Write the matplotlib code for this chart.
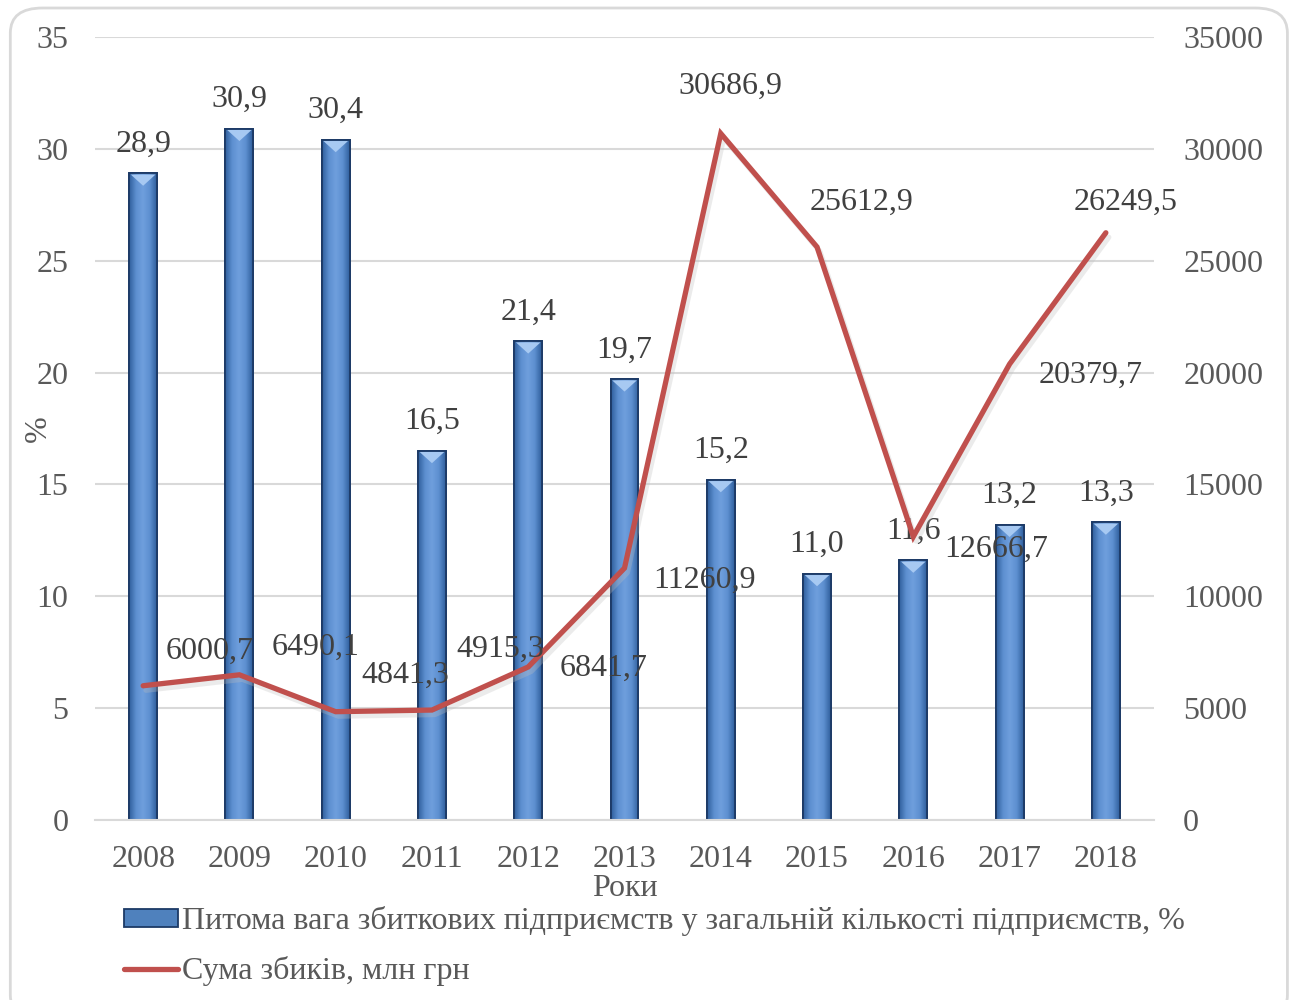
import matplotlib
matplotlib.use("Agg")
import matplotlib.pyplot as plt
import numpy as np
from matplotlib.patches import FancyBboxPatch, Polygon, Rectangle
from matplotlib.lines import Line2D
from matplotlib.colors import LinearSegmentedColormap

years = ["2008", "2009", "2010", "2011", "2012", "2013", "2014", "2015", "2016", "2017", "2018"]
share = [28.9, 30.9, 30.4, 16.5, 21.4, 19.7, 15.2, 11.0, 11.6, 13.2, 13.3]
losses = [6000.7, 6490.1, 4841.3, 4915.3, 6841.7, 11260.9, 30686.9, 25612.9, 12666.7, 20379.7, 26249.5]
share_labels = ["28,9", "30,9", "30,4", "16,5", "21,4", "19,7", "15,2", "11,0", "11,6", "13,2", "13,3"]
loss_labels = ["6000,7", "6490,1", "4841,3", "4915,3", "6841,7", "11260,9", "30686,9", "25612,9", "12666,7", "20379,7", "26249,5"]
left_ticks = [0, 5, 10, 15, 20, 25, 30, 35]
right_ticks = [0, 5000, 10000, 15000, 20000, 25000, 30000, 35000]
legend_bar = "Питома вага збиткових підприємств у загальній кількості підприємств, %"
legend_line = "Сума збиків, млн грн"
xlabel = "Роки"
ylabel = "%"

# label offsets in points (style/layout)
loss_offsets = [(48, 25), (55, 20), (50, 26), (49, 44), (54, -1), (58, -9),
                (7, 34), (32, 32), (60, -9), (58, -8), (14, 22)]

plt.rcParams['font.family'] = ['Liberation Serif', 'DejaVu Serif']
FS = 23
TICK_C = '#595959'
LAB_C = '#404040'

fig = plt.figure(figsize=(12.9, 10), dpi=100)
fig.patches.append(FancyBboxPatch((0.008, -0.02), 0.998 - 0.008, 0.992 + 0.02,
                                  boxstyle="round,pad=0,rounding_size=0.025",
                                  transform=fig.transFigure, facecolor='white',
                                  edgecolor='#d9d9d9', linewidth=2, zorder=-10))

ax = fig.add_axes([95 / 1290, 0.18, (1154 - 95) / 1290, 0.963 - 0.18])
ax.set_facecolor('none')
x = np.arange(len(years))
ax.set_xlim(-0.5, len(years) - 0.5)
ax.set_ylim(0, 35)
ax.set_yticks(left_ticks)
ax.grid(axis='y', color='#d9d9d9', linewidth=1.5, zorder=0)
ax.set_axisbelow(True)
for s in ['top', 'right', 'left']:
    ax.spines[s].set_visible(False)
ax.spines['bottom'].set_color('#d9d9d9')
ax.spines['bottom'].set_linewidth(1.5)
ax.tick_params(axis='both', length=0, labelsize=FS, labelcolor=TICK_C)
ax.tick_params(axis='y', pad=19)
ax.tick_params(axis='x', pad=18)
ax.set_xticks(x)
ax.set_xticklabels(years)
ax.set_xlabel(xlabel, fontsize=FS, color=TICK_C, labelpad=0)
ax.set_ylabel(ylabel, fontsize=FS, color=TICK_C, labelpad=-12)

bars = ax.bar(x, share, width=0.29, facecolor='#4f81bd', edgecolor='#1c3a66',
              linewidth=1.3, zorder=2)
cmap = LinearSegmentedColormap.from_list('b', ['#2f5f9c', '#5d8fd0', '#6f9fdd', '#5d8fd0', '#2f5f9c'])
grad = np.linspace(0, 1, 64).reshape(1, -1)
for b in bars:
    bx, bw, bh = b.get_x(), b.get_width(), b.get_height()
    im = ax.imshow(grad, cmap=cmap, extent=(bx, bx + bw, 0, bh), aspect='auto',
                   zorder=2.1, interpolation='bilinear')
    im.set_clip_path(b)
    ax.add_patch(Rectangle((bx, 0), bw, bh, fill=False, edgecolor='#1c3a66',
                           linewidth=1.3, zorder=2.3))
    tri = Polygon([(bx + bw * 0.06, bh - 0.05), (bx + bw * 0.94, bh - 0.05),
                   (bx + bw / 2, bh - 0.55)], closed=True, facecolor='#a7c9f2',
                  edgecolor='none', zorder=2.2)
    ax.add_patch(tri)
ax.set_xlim(-0.5, len(years) - 0.5)
ax.set_ylim(0, 35)

for xi, v, t in zip(x, share, share_labels):
    ax.annotate(t, (xi, v), xytext=(0, 21), textcoords='offset points',
                ha='center', va='center', fontsize=FS, color=LAB_C, zorder=5)

ax2 = ax.twinx()
ax2.set_ylim(0, 35000)
ax2.set_yticks(right_ticks)
for s in ['top', 'right', 'left', 'bottom']:
    ax2.spines[s].set_visible(False)
ax2.tick_params(axis='y', length=0, labelsize=FS, labelcolor=TICK_C, pad=21)
ax2.plot(x + 0.03, np.array(losses) - 200, color='#bfbfbf', linewidth=3.8,
         alpha=0.3, solid_capstyle='round', zorder=2)
ax2.plot(x, losses, color='#c0504d', linewidth=3.8, solid_capstyle='round',
         solid_joinstyle='miter', zorder=3)
for xi, v, t, off in zip(x, losses, loss_labels, loss_offsets):
    ax2.annotate(t, (xi, v), xytext=off, textcoords='offset points',
                 ha='center', va='center', fontsize=FS, color=LAB_C, zorder=5)

h_bar = Rectangle((0, 0), 1, 1, facecolor='#4f81bd', edgecolor='#1c3a66', linewidth=1.3)
h_line = Line2D([0], [0], color='#c0504d', linewidth=3.8, solid_capstyle='round')
leg = fig.legend([h_bar, h_line], [legend_bar, legend_line], loc='upper left',
                 bbox_to_anchor=(0.096, 0.094), frameon=False, fontsize=FS,
                 handlelength=1.7, handleheight=0.5, handletextpad=0.12,
                 labelspacing=0.62, borderaxespad=0, borderpad=0)
for t in leg.get_texts():
    t.set_color(TICK_C)

fig.savefig('out.png', dpi=100)
